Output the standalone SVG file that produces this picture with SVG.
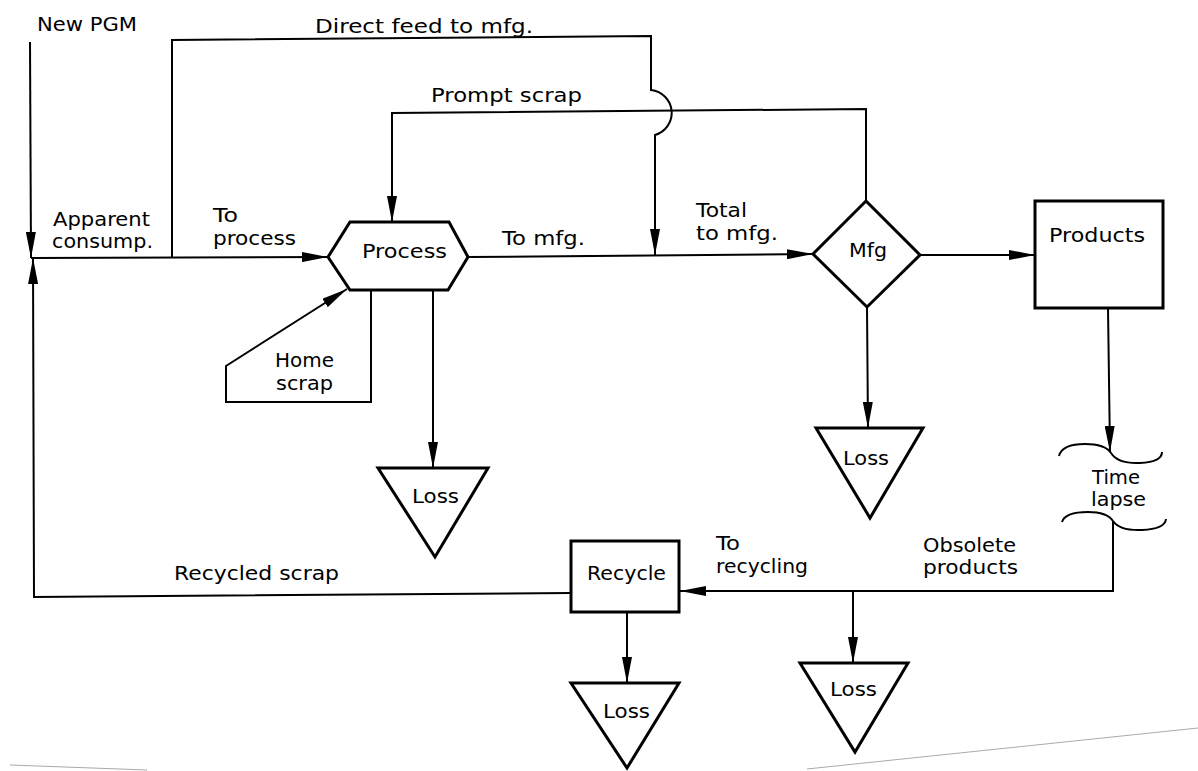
<svg xmlns="http://www.w3.org/2000/svg" width="1198" height="771" viewBox="0 0 1198 771">
<style>
.node{fill:#fff;stroke:#000;stroke-width:3;stroke-linejoin:miter}
.con{fill:none;stroke:#000;stroke-width:2}
.t{font-family:"DejaVu Sans","Liberation Sans",Arial,sans-serif;font-size:20px;fill:#000}
.scan{fill:none;stroke:#aaa;stroke-width:1}
</style>
<defs>
<marker id="ah" viewBox="0 0 26 10" refX="26" refY="5" markerWidth="26" markerHeight="10" markerUnits="userSpaceOnUse" orient="auto">
<path d="M0,0 L26,5 L0,10 z" fill="#000"/>
</marker>
</defs>
<rect width="1198" height="771" fill="#fff"/>
<g id="connectors">
<path class="con" d="M30,42 L31,258" marker-end="url(#ah)"/>
<path class="con" d="M31,258 L328,257" marker-end="url(#ah)"/>
<path class="con" d="M571,593 L34,597 L33,258" marker-end="url(#ah)"/>
<path class="con" d="M172,258 L172,40 L651,36 L651,90 A23,23 0 0 1 655,135 L655,255" marker-end="url(#ah)"/>
<path class="con" d="M866,200 L866,109 L392,113 L392,222" marker-end="url(#ah)"/>
<path class="con" d="M468,257 L813,254" marker-end="url(#ah)"/>
<path class="con" d="M920,255 L1035,255" marker-end="url(#ah)"/>
<path class="con" d="M371,290 L371,402 L226,402 L226,366 L347,289" marker-end="url(#ah)"/>
<path class="con" d="M433,290 L433,468" marker-end="url(#ah)"/>
<path class="con" d="M867,307 L868,428" marker-end="url(#ah)"/>
<path class="con" d="M1108,308 L1110,452" marker-end="url(#ah)"/>
<path class="con" d="M1113,521 L1113,591 L680,591" marker-end="url(#ah)"/>
<path class="con" d="M853,591 L853,663" marker-end="url(#ah)"/>
<path class="con" d="M627,612 L627,683" marker-end="url(#ah)"/>
</g>
<g id="process">
<polygon class="node" points="328,257 350,222 449,222 468,257 448,290 350,290"/>
<text class="t" x="362" y="258" textLength="85" lengthAdjust="spacingAndGlyphs">Process</text>
</g>
<g id="mfg">
<polygon class="node" points="866,201 920,255 867,307 813,254"/>
<text class="t" x="849" y="257" textLength="38" lengthAdjust="spacingAndGlyphs">Mfg</text>
</g>
<g id="products">
<rect class="node" x="1035" y="201" width="128" height="107"/>
<text class="t" x="1049" y="242" textLength="96" lengthAdjust="spacingAndGlyphs">Products</text>
</g>
<g id="recycle">
<rect class="node" x="571" y="541" width="108" height="71"/>
<text class="t" x="587" y="580" textLength="79" lengthAdjust="spacingAndGlyphs">Recycle</text>
</g>
<g id="loss-process">
<polygon class="node" points="378,468 488,468 435,557"/>
<text class="t" x="412" y="503" textLength="47" lengthAdjust="spacingAndGlyphs">Loss</text>
</g>
<g id="loss-mfg">
<polygon class="node" points="816,428 923,428 870,518"/>
<text class="t" x="843" y="465" textLength="46" lengthAdjust="spacingAndGlyphs">Loss</text>
</g>
<g id="loss-obsolete">
<polygon class="node" points="800,663 908,663 855,752"/>
<text class="t" x="830" y="696" textLength="47" lengthAdjust="spacingAndGlyphs">Loss</text>
</g>
<g id="loss-recycle">
<polygon class="node" points="571,683 679,683 627,768"/>
<text class="t" x="603" y="718" textLength="47" lengthAdjust="spacingAndGlyphs">Loss</text>
</g>
<g id="time-lapse">
<path class="con" d="M1059,456 Q1062,444 1085,444 Q1105,444 1111,453 Q1118,464 1140,463 Q1162,462 1162,452"/>
<path class="con" d="M1062,522 Q1065,512 1088,512 Q1107,512 1113,521 Q1120,531 1142,530 Q1165,529 1166,519"/>
<text class="t" x="1092" y="484" textLength="48" lengthAdjust="spacingAndGlyphs">Time</text>
<text class="t" x="1091" y="506" textLength="55" lengthAdjust="spacingAndGlyphs">lapse</text>
</g>
<g id="labels">
<text class="t" x="37" y="31" textLength="100" lengthAdjust="spacingAndGlyphs">New PGM</text>
<text class="t" x="315" y="33" textLength="218" lengthAdjust="spacingAndGlyphs">Direct feed to mfg.</text>
<text class="t" x="431" y="102" textLength="151" lengthAdjust="spacingAndGlyphs">Prompt scrap</text>
<text class="t" x="53" y="226" textLength="97" lengthAdjust="spacingAndGlyphs">Apparent</text>
<text class="t" x="52" y="248" textLength="101" lengthAdjust="spacingAndGlyphs">consump.</text>
<text class="t" x="213" y="222" textLength="25" lengthAdjust="spacingAndGlyphs">To</text>
<text class="t" x="213" y="245" textLength="83" lengthAdjust="spacingAndGlyphs">process</text>
<text class="t" x="502" y="245" textLength="83" lengthAdjust="spacingAndGlyphs">To mfg.</text>
<text class="t" x="696" y="217" textLength="51" lengthAdjust="spacingAndGlyphs">Total</text>
<text class="t" x="696" y="240" textLength="82" lengthAdjust="spacingAndGlyphs">to mfg.</text>
<text class="t" x="275" y="367" textLength="59" lengthAdjust="spacingAndGlyphs">Home</text>
<text class="t" x="276" y="390" textLength="57" lengthAdjust="spacingAndGlyphs">scrap</text>
<text class="t" x="174" y="580" textLength="165" lengthAdjust="spacingAndGlyphs">Recycled scrap</text>
<text class="t" x="716" y="550" textLength="24" lengthAdjust="spacingAndGlyphs">To</text>
<text class="t" x="716" y="573" textLength="92" lengthAdjust="spacingAndGlyphs">recycling</text>
<text class="t" x="923" y="552" textLength="93" lengthAdjust="spacingAndGlyphs">Obsolete</text>
<text class="t" x="923" y="574" textLength="95" lengthAdjust="spacingAndGlyphs">products</text>
</g>
<g id="scan-marks">
<path class="scan" d="M10,765 L147,770"/>
<path class="scan" d="M807,769 L1198,728"/>
</g>
</svg>
